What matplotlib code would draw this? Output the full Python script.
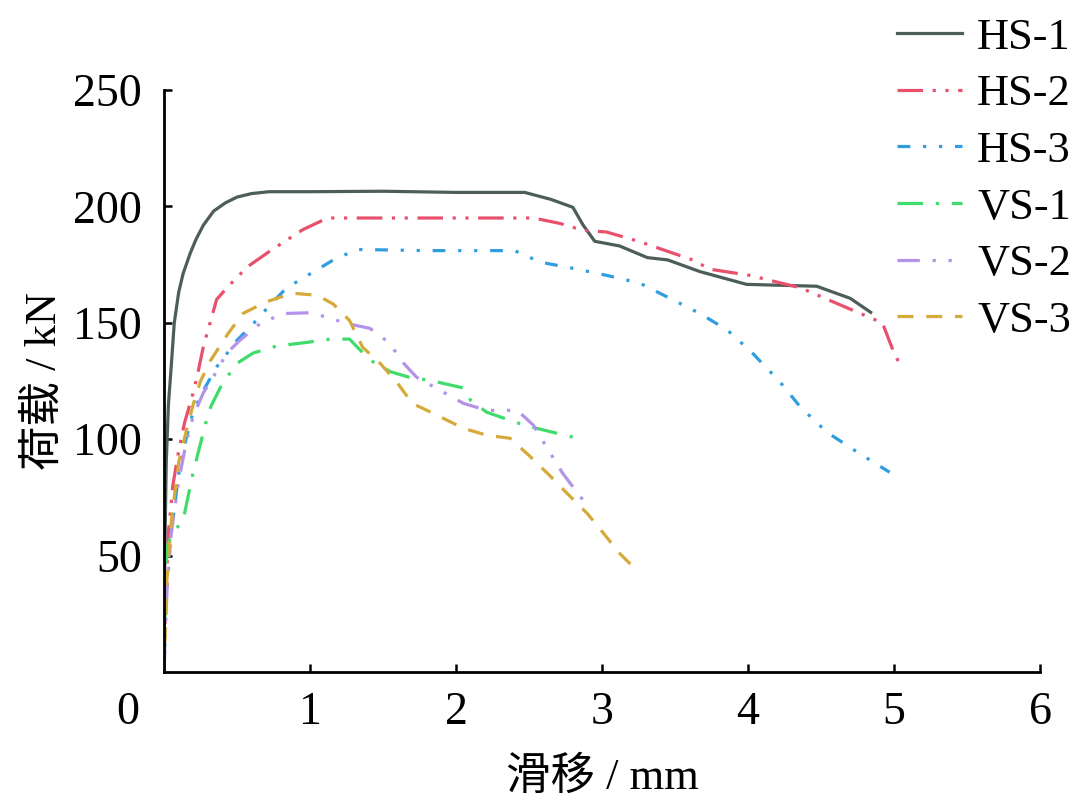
import matplotlib
matplotlib.use("Agg")
import matplotlib.pyplot as plt

plt.rcParams['font.family'] = ['Liberation Serif', 'Noto Sans CJK SC']
plt.rcParams['axes.unicode_minus'] = False

# load-slip curves (slip in mm, load in kN)
hs1_x = [0, 0.005, 0.015, 0.03, 0.05, 0.07, 0.1, 0.13, 0.18, 0.22, 0.27, 0.34, 0.42, 0.5,
         0.6, 0.72, 1.0, 1.5, 2.0, 2.47, 2.65, 2.8, 2.87, 2.95, 3.12, 3.31, 3.45, 3.67,
         3.99, 4.47, 4.7, 4.84]
hs1_y = [0, 50, 90, 115, 132, 150, 163, 171, 180, 186, 192, 198, 201.5, 204,
         205.5, 206.3, 206.3, 206.5, 206, 206, 203, 199.6, 192, 185, 183, 178, 177, 172,
         166.5, 165.7, 160.5, 154.5]

hs2_x = [0, 0.01, 0.03, 0.06, 0.1, 0.14, 0.2, 0.23, 0.27, 0.32, 0.36, 0.43, 0.57, 0.73,
         0.95, 1.12, 1.3, 2.0, 2.53, 2.71, 2.87, 3.03, 3.26, 3.62, 3.74, 4.01, 4.36,
         4.75, 4.92, 5.0, 5.05]
hs2_y = [0, 30, 60, 80, 95, 107, 120, 128, 140, 151, 160, 165, 174, 181,
         190, 195, 195, 195, 195, 192.7, 189.7, 189, 184.8, 177, 173, 170.4, 165,
         154.5, 150, 137, 131]

hs3_x = [0, 0.02, 0.05, 0.1, 0.15, 0.2, 0.27, 0.36, 0.5, 0.64, 0.73, 0.84, 1.0, 1.16,
         1.32, 1.8, 2.4, 2.58, 2.8, 3.03, 3.26, 3.67, 3.86, 4.03, 4.22, 4.36, 4.54,
         4.75, 4.97]
hs3_y = [0, 40, 60, 85, 100, 112, 121, 131, 142.5, 151.5, 158, 165, 171, 177,
         181.5, 181, 181, 176, 173.4, 170.4, 167, 154, 146.8, 137, 124.5, 113.7, 103,
         94.4, 85.8]

vs1_x = [0, 0.01, 0.02, 0.06, 0.13, 0.2, 0.29, 0.32, 0.4, 0.5, 0.61, 0.77, 0.98, 1.14,
         1.27, 1.41, 1.55, 1.68, 1.82, 2.05, 2.1, 2.21, 2.42, 2.55, 2.8]
vs1_y = [0, 35, 54, 60, 65, 86, 108, 114, 124, 132.6, 137, 140, 141.6, 143,
         143, 134, 129, 126.6, 125.3, 122, 116.7, 111.6, 107, 104.7, 100.9]

vs2_x = [0, 0.02, 0.05, 0.1, 0.15, 0.2, 0.27, 0.34, 0.43, 0.52, 0.66, 0.82, 1.0, 1.14,
         1.23, 1.41, 1.55, 1.62, 1.73, 1.89, 2.05, 2.21, 2.42, 2.53, 2.62, 2.73, 2.87, 2.9]
vs2_y = [0, 35, 60, 82, 98, 110, 120, 127, 137, 142.5, 149.8, 154, 154.3, 152,
         150, 147.6, 141, 134, 126.6, 121, 115.4, 112.4, 112.4, 106, 96.6, 85.4, 73.8, 71.7]

vs3_x = [0, 0.02, 0.05, 0.1, 0.15, 0.2, 0.25, 0.32, 0.44, 0.54, 0.7, 0.88, 1.05, 1.16,
         1.27, 1.36, 1.48, 1.6, 1.7, 1.87, 2.05, 2.21, 2.37, 2.5, 2.64, 2.76, 2.9,
         3.01, 3.12, 3.2]
vs3_y = [0, 40, 65, 90, 103, 115, 125, 134, 145.5, 154, 159, 162.7, 161.8, 158,
         151, 139.5, 132.6, 124, 115.4, 110.3, 104.7, 101.7, 100.4, 93, 84.5, 76.8, 68,
         59.6, 51, 46]

labels = ['HS-1', 'HS-2', 'HS-3', 'VS-1', 'VS-2', 'VS-3']
xs = [hs1_x, hs2_x, hs3_x, vs1_x, vs2_x, vs3_x]
ys = [hs1_y, hs2_y, hs3_y, vs1_y, vs2_y, vs3_y]
colors = ['#4d5d58', '#e8506c', '#2f9de0', '#3fdc6c', '#b393ea', '#d6aa3a']
styles = ['-', (0, (8, 3, 1, 3, 1, 3)), (0, (4, 4, 1, 4, 1, 4)),
          (0, (8, 4, 1, 4)), (0, (7, 4, 1, 4, 1, 4)), (0, (5, 4))]

fig = plt.figure(figsize=(10.8, 8.09), dpi=100)
ax = fig.add_axes([0.1519, 0.1693, 0.8111, 0.7195])

for i in range(len(labels)):
    ax.plot(xs[i], ys[i], color=colors[i], linestyle=styles[i], lw=2.3, label=labels[i])

ax.set_xlim(0, 6)
ax.set_ylim(0, 250)
ax.set_xticks([1, 2, 3, 4, 5, 6])
ax.set_yticks([50, 100, 150, 200, 250])
ax.spines['top'].set_visible(False)
ax.spines['right'].set_visible(False)
ax.spines['left'].set_linewidth(2)
ax.spines['bottom'].set_linewidth(2)
ax.tick_params(direction='in', length=6, width=1.8, labelsize=33)
ax.tick_params(axis='x', pad=14)
ax.tick_params(axis='y', pad=16)
# shared origin label sits lower-left of the corner
ax.text(-0.25, -0.07, '0', transform=ax.get_xaxis_transform(), fontsize=33,
        ha='center', va='center')

ax.set_xlabel('滑移 / mm', fontsize=32, labelpad=16)
ax.set_ylabel('荷载 / kN', fontsize=32, labelpad=6)

fig.legend(loc='upper right', bbox_to_anchor=(1.0, 0.989), frameon=False, fontsize=32,
           handlelength=1.45, handletextpad=0.35, labelspacing=0.37, borderaxespad=0.1,
           borderpad=0.1)

plt.savefig('out.png', dpi=100)
